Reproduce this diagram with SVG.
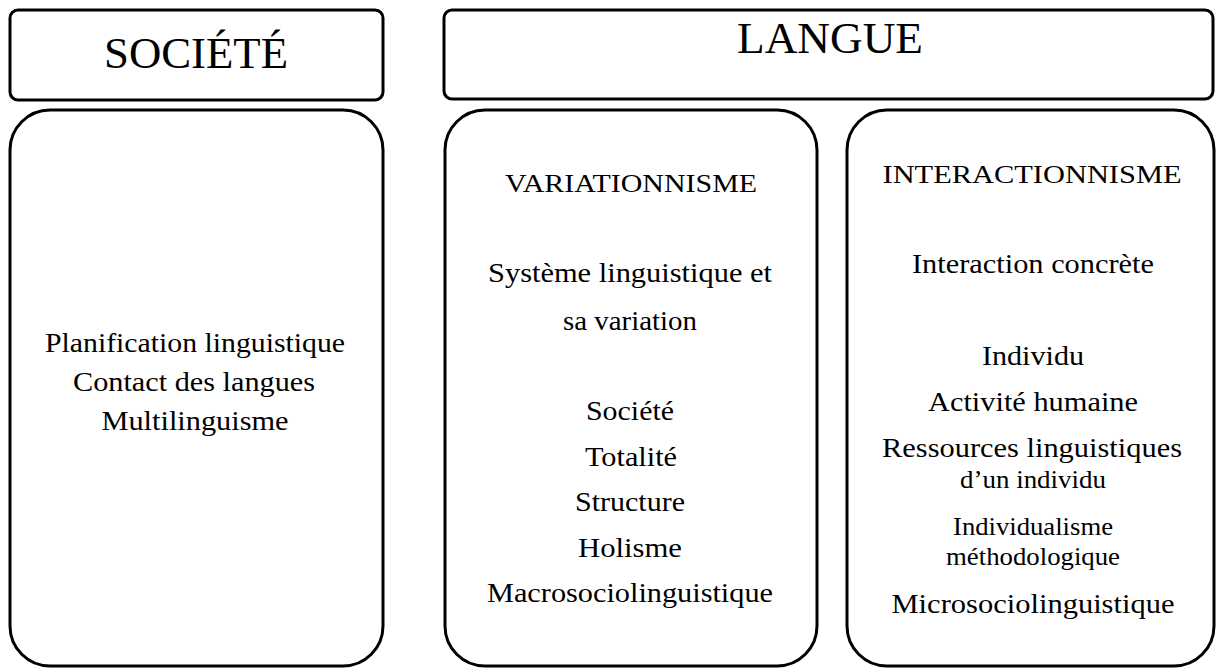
<svg xmlns="http://www.w3.org/2000/svg" width="1217" height="668" viewBox="0 0 1217 668">
<style>
.box{fill:#fff;stroke:#000;stroke-width:3}
.t{fill:#000;text-anchor:middle}
.title{font-size:44px}
.head{font-size:26px}
.body{font-size:27px}
.small{font-size:25px}
</style>
<rect width="1217" height="668" fill="#fff"/>
<g font-family="Liberation Serif, Times New Roman, Times, serif">
<g id="societe-header">
<rect class="box" x="10" y="10" width="373" height="90" rx="8"/>
<text class="t title" x="196" y="68" textLength="184" lengthAdjust="spacingAndGlyphs">SOCIÉTÉ</text>
</g>
<g id="langue-header">
<rect class="box" x="444" y="10" width="769" height="89" rx="8"/>
<text class="t title" x="830" y="53" textLength="186" lengthAdjust="spacingAndGlyphs">LANGUE</text>
</g>
<g id="societe-body">
<rect class="box" x="10" y="110" width="373" height="556" rx="40"/>
<text class="t body" x="195" y="352" textLength="300" lengthAdjust="spacingAndGlyphs">Planification linguistique</text>
<text class="t body" x="194" y="391" textLength="242" lengthAdjust="spacingAndGlyphs">Contact des langues</text>
<text class="t body" x="195" y="430" textLength="187" lengthAdjust="spacingAndGlyphs">Multilinguisme</text>
</g>
<g id="variationnisme">
<rect class="box" x="445" y="110" width="372" height="556" rx="40"/>
<text class="t head" x="631" y="192" textLength="252" lengthAdjust="spacingAndGlyphs">VARIATIONNISME</text>
<text class="t body" x="630" y="282" textLength="284" lengthAdjust="spacingAndGlyphs">Système linguistique et</text>
<text class="t body" x="630" y="330" textLength="134" lengthAdjust="spacingAndGlyphs">sa variation</text>
<text class="t body" x="630" y="420" textLength="88" lengthAdjust="spacingAndGlyphs">Société</text>
<text class="t body" x="631" y="466" textLength="92" lengthAdjust="spacingAndGlyphs">Totalité</text>
<text class="t body" x="630" y="511" textLength="110" lengthAdjust="spacingAndGlyphs">Structure</text>
<text class="t body" x="630" y="557" textLength="104" lengthAdjust="spacingAndGlyphs">Holisme</text>
<text class="t body" x="630" y="602" textLength="286" lengthAdjust="spacingAndGlyphs">Macrosociolinguistique</text>
</g>
<g id="interactionnisme">
<rect class="box" x="847" y="110" width="367" height="556" rx="40"/>
<text class="t head" x="1032" y="183" textLength="299" lengthAdjust="spacingAndGlyphs">INTERACTIONNISME</text>
<text class="t body" x="1033" y="273" textLength="242" lengthAdjust="spacingAndGlyphs">Interaction concrète</text>
<text class="t body" x="1033" y="365" textLength="102" lengthAdjust="spacingAndGlyphs">Individu</text>
<text class="t body" x="1033" y="411" textLength="210" lengthAdjust="spacingAndGlyphs">Activité humaine</text>
<text class="t body" x="1032" y="457" textLength="300" lengthAdjust="spacingAndGlyphs">Ressources linguistiques</text>
<text class="t small" x="1033" y="488" textLength="146" lengthAdjust="spacingAndGlyphs">d’un individu</text>
<text class="t small" x="1033" y="535" textLength="160" lengthAdjust="spacingAndGlyphs">Individualisme</text>
<text class="t small" x="1033" y="565" textLength="174" lengthAdjust="spacingAndGlyphs">méthodologique</text>
<text class="t body" x="1033" y="613" textLength="283" lengthAdjust="spacingAndGlyphs">Microsociolinguistique</text>
</g>
</g>
<g id="connectors"></g>
</svg>
